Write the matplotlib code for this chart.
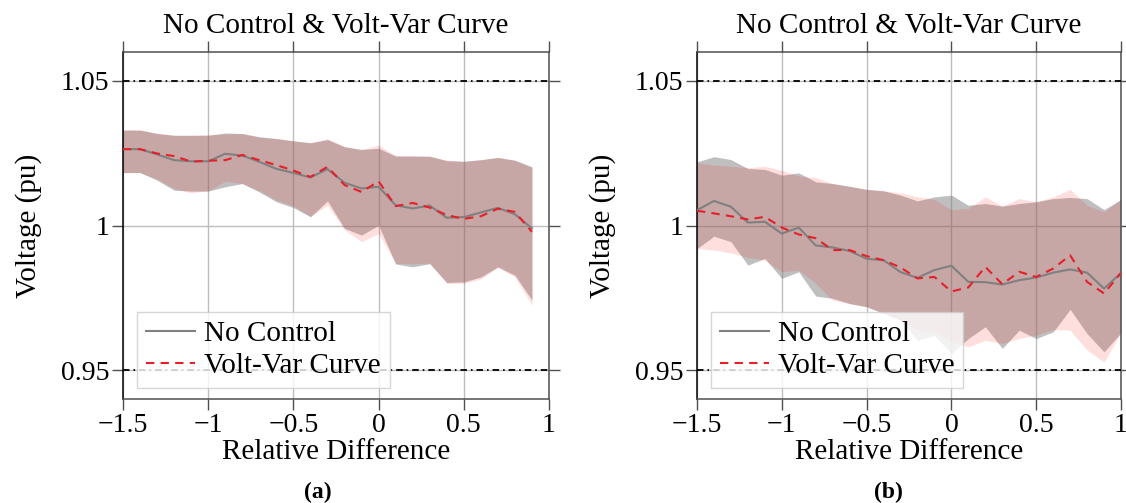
import matplotlib
matplotlib.use("Agg")
import matplotlib.pyplot as plt

plt.rcParams['font.family'] = ['Liberation Serif', 'DejaVu Serif']
plt.rcParams['font.size'] = 21

# Relative difference sample points
rel_diff_a = [-1.5, -1.4, -1.3, -1.2, -1.1, -1.0, -0.9, -0.8, -0.7, -0.6, -0.5, -0.4, -0.3,
              -0.2, -0.1, 0.0, 0.1, 0.2, 0.3, 0.4, 0.5, 0.6, 0.7, 0.8, 0.9]
rel_diff_b = [-1.5, -1.4, -1.3, -1.2, -1.1, -1.0, -0.9, -0.8, -0.7, -0.6, -0.5, -0.4, -0.3,
              -0.2, -0.1, 0.0, 0.1, 0.2, 0.3, 0.4, 0.5, 0.6, 0.7, 0.8, 0.9, 1.0]

# Caso (a): tension media y envolvente (pu)
nc_mean_a = [1.0264, 1.0264, 1.0246, 1.0226, 1.0222, 1.0222, 1.0248, 1.0242, 1.0220, 1.0196,
             1.0182, 1.0166, 1.0195, 1.0148, 1.0128, 1.0134, 1.0070, 1.0059, 1.0069, 1.0027,
             1.0029, 1.0045, 1.0061, 1.0039, 0.9990]
vv_mean_a = [1.0264, 1.0264, 1.0249, 1.0240, 1.0221, 1.0224, 1.0226, 1.0244, 1.0226, 1.0209,
             1.0190, 1.0168, 1.0203, 1.0140, 1.0116, 1.0153, 1.0067, 1.0078, 1.0062, 1.0036,
             1.0023, 1.0032, 1.0058, 1.0047, 0.9978]
nc_max_a = [1.0330, 1.0330, 1.0318, 1.0312, 1.0312, 1.0312, 1.0320, 1.0318, 1.0307, 1.0301,
            1.0293, 1.0286, 1.0297, 1.0272, 1.0263, 1.0267, 1.0240, 1.0240, 1.0240, 1.0224,
            1.0222, 1.0228, 1.0235, 1.0226, 1.0203]
vv_max_a = [1.0330, 1.0330, 1.0320, 1.0312, 1.0312, 1.0314, 1.0316, 1.0318, 1.0305, 1.0300,
            1.0292, 1.0286, 1.0300, 1.0274, 1.0262, 1.0278, 1.0242, 1.0241, 1.0238, 1.0226,
            1.0222, 1.0226, 1.0236, 1.0225, 1.0200]
nc_min_a = [1.0183, 1.0183, 1.0157, 1.0122, 1.0119, 1.0119, 1.0134, 1.0145, 1.0116, 1.0082,
            1.0062, 1.0030, 1.0085, 0.9990, 0.9967, 1.0001, 0.9867, 0.9857, 0.9868, 0.9803,
            0.9805, 0.9822, 0.9857, 0.9828, 0.9742]
vv_min_a = [1.0183, 1.0183, 1.0160, 1.0128, 1.0113, 1.0120, 1.0153, 1.0145, 1.0120, 1.0088,
            1.0068, 1.0032, 1.0070, 0.9985, 0.9944, 0.9972, 0.9869, 0.9868, 0.9870, 0.9800,
            0.9800, 0.9815, 0.9855, 0.9822, 0.9724]

# Caso (b)
nc_mean_b = [1.0053, 1.0085, 1.0065, 1.0010, 1.0013, 0.9972, 0.9993, 0.9931, 0.9924, 0.9912,
             0.9885, 0.9880, 0.9839, 0.9819, 0.9846, 0.9861, 0.9805, 0.9804, 0.9796, 0.9811,
             0.9820, 0.9837, 0.9848, 0.9837, 0.9782, 0.9836]
vv_mean_b = [1.0051, 1.0042, 1.0032, 1.0021, 1.0030, 0.9993, 0.9969, 0.9956, 0.9915, 0.9915,
             0.9894, 0.9880, 0.9855, 0.9817, 0.9822, 0.9772, 0.9786, 0.9857, 0.9797, 0.9840,
             0.9822, 0.9851, 0.9897, 0.9805, 0.9765, 0.9836]
nc_max_b = [1.0220, 1.0238, 1.0228, 1.0197, 1.0194, 1.0174, 1.0182, 1.0151, 1.0145, 1.0136,
            1.0125, 1.0120, 1.0105, 1.0085, 1.0099, 1.0105, 1.0070, 1.0076, 1.0067, 1.0076,
            1.0082, 1.0093, 1.0097, 1.0093, 1.0055, 1.0090]
vv_max_b = [1.0217, 1.0209, 1.0205, 1.0200, 1.0205, 1.0191, 1.0171, 1.0166, 1.0145, 1.0134,
            1.0125, 1.0120, 1.0113, 1.0099, 1.0090, 1.0055, 1.0059, 1.0099, 1.0067, 1.0093,
            1.0082, 1.0099, 1.0125, 1.0070, 1.0047, 1.0090]
nc_min_b = [0.9920, 0.9963, 0.9944, 0.9863, 0.9886, 0.9817, 0.9840, 0.9756, 0.9748, 0.9730,
            0.9719, 0.9696, 0.9673, 0.9603, 0.9620, 0.9557, 0.9609, 0.9650, 0.9575, 0.9638,
            0.9609, 0.9632, 0.9710, 0.9626, 0.9563, 0.9629]
vv_min_b = [0.9920, 0.9915, 0.9905, 0.9890, 0.9880, 0.9840, 0.9845, 0.9800, 0.9742, 0.9730,
            0.9719, 0.9696, 0.9673, 0.9638, 0.9630, 0.9598, 0.9580, 0.9603, 0.9592, 0.9609,
            0.9621, 0.9640, 0.9638, 0.9569, 0.9528, 0.9629]

v_limits = [0.95, 1.05]
x_ticks = [-1.5, -1.0, -0.5, 0.0, 0.5, 1.0]
x_ticklabels = ['\u22121.5', '\u22121', '\u22120.5', '0', '0.5', '1']
y_ticks = [0.95, 1.0, 1.05]
y_ticklabels = ['0.95', '1', '1.05']

TITLE = 'No Control & Volt-Var Curve'
LABELS = ['No Control', 'Volt-Var Curve']


def draw_panel(ax, x, nc_mean, nc_min, nc_max, vv_mean, vv_min, vv_max):
    ax.fill_between(x, nc_min, nc_max, color='#808080', alpha=0.5, lw=0, zorder=2)
    ax.fill_between(x, vv_min, vv_max, color='red', alpha=0.13, lw=0, zorder=2)
    for v in v_limits:
        ax.axhline(v, color='black', lw=1.3, ls=(0, (3.6, 2.2, 0.9, 2.2)), zorder=3)
    ax.plot(x, nc_mean, color='#808080', lw=1.5, label=LABELS[0], zorder=4)
    ax.plot(x, vv_mean, color='#e4202a', lw=1.5, ls=(0, (4, 3)), label=LABELS[1], zorder=5)

    ax.set_xlim(-1.5, 1.0)
    ax.set_ylim(0.94, 1.06)
    ax.set_xticks(x_ticks)
    ax.set_xticklabels(x_ticklabels)
    ax.set_yticks(y_ticks)
    ax.set_yticklabels(y_ticklabels)
    ax.grid(True, color='#bdbdbd', lw=1.0, zorder=0)
    ax.set_axisbelow(True)
    ax.tick_params(direction='out', length=8, width=1.0, color='#505050', pad=2,
                   labelsize=20, top=True, right=True)
    for sp in ax.spines.values():
        sp.set_color('#505050')
        sp.set_linewidth(1.1)
    ax.spines['left'].set_color('black')

    ax.text(0.5, 1.075, TITLE, transform=ax.transAxes, ha='center', va='center')
    ax.set_xlabel('Relative Difference')
    ax.xaxis.set_label_coords(0.5, -0.115)
    ax.set_ylabel('Voltage (pu)')
    ax.yaxis.set_label_coords(-0.19, 0.5)

    leg = ax.legend(loc='lower left', bbox_to_anchor=(0.033, 0.032), borderaxespad=0,
                    handlelength=1.7, handletextpad=0.3, borderpad=0.3,
                    labelspacing=0.2, fancybox=False, framealpha=0.8,
                    edgecolor='#cccccc')
    leg.get_frame().set_linewidth(1.0)
    leg.set_zorder(6)


fig = plt.figure(figsize=(11.26, 5.03), dpi=100)
ax_a = fig.add_axes([123 / 1126, 104 / 503, 426 / 1126, 347 / 503])
ax_b = fig.add_axes([697 / 1126, 104 / 503, 424 / 1126, 347 / 503])

draw_panel(ax_a, rel_diff_a, nc_mean_a, nc_min_a, nc_max_a, vv_mean_a, vv_min_a, vv_max_a)
draw_panel(ax_b, rel_diff_b, nc_mean_b, nc_min_b, nc_max_b, vv_mean_b, vv_min_b, vv_max_b)

fig.text(318 / 1126, 1 - 492 / 503, '(a)', ha='center', va='center', fontweight='bold', fontsize=17)
fig.text(888 / 1126, 1 - 492 / 503, '(b)', ha='center', va='center', fontweight='bold', fontsize=17)

fig.savefig('out.png', dpi=100)
